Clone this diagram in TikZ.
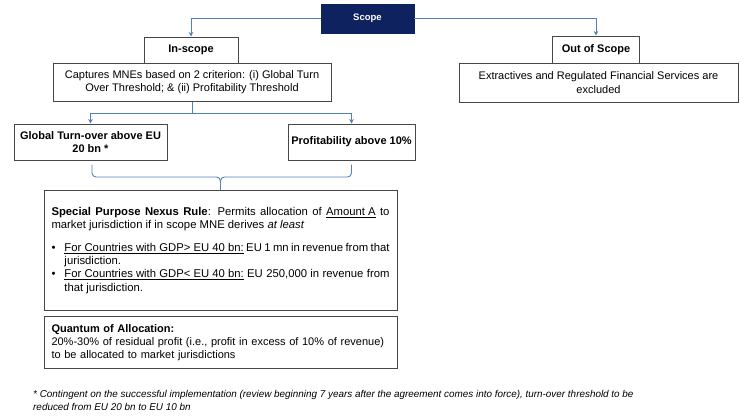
\documentclass[tikz,border=0pt]{standalone}
\usepackage{fontspec}
\setmainfont{Liberation Sans}
\usetikzlibrary{arrows.meta,calc}
\definecolor{navy}{RGB}{13,34,94}
\definecolor{connblue}{RGB}{79,129,189}
\definecolor{boxgray}{RGB}{70,70,70}
\hyphenpenalty=10000
\exhyphenpenalty=10000
\newcommand{\bulletitem}[1]{{\leftskip=13pt\noindent\llap{\makebox[13pt][l]{\textbullet}}#1\par}}
\begin{document}
\begin{tikzpicture}[x=1pt,y=-1pt,
  box/.style={draw=boxgray, line width=1pt, fill=white, inner sep=2pt, align=center,
    font=\fontsize{11}{13.5}\selectfont},
  boldbox/.style={box, font=\bfseries\fontsize{11}{13.5}\selectfont},
  scopebox/.style={draw=navy, fill=navy, text=white, inner sep=0pt,
    font=\bfseries\fontsize{9.5}{11}\selectfont},
  textbox/.style={draw=boxgray, line width=1pt, fill=white, inner xsep=7.5pt, inner ysep=4pt,
    font=\fontsize{11.3}{13.3}\selectfont},
  conn/.style={draw=connblue, line width=0.9pt},
  arr/.style={-{Stealth[length=4.5pt,width=4.5pt]}},
  note/.style={inner sep=0pt, align=left, font=\itshape\fontsize{9.9}{13}\selectfont}]
\useasboundingbox (0,0) rectangle (750,418);

\node[scopebox, minimum width=93pt, minimum height=29pt] (scope) at (367.5,18.5) {Scope};
\node[boldbox, minimum width=94pt, minimum height=26pt] (in) at (191,50) {In-scope};
\node[box, minimum width=278pt, minimum height=38pt] (cap) at (192,82)
  {Captures MNEs based on 2 criterion: (i) Global Turn\\Over Threshold; \& (ii) Profitability Threshold};
\node[boldbox, minimum width=87pt, minimum height=27pt] (out) at (596,49.5) {Out of Scope};
\node[box, minimum width=279pt, minimum height=39pt] (ext) at (598.5,82.5)
  {Extractives and Regulated Financial Services are\\excluded};
\node[boldbox, minimum width=153pt, minimum height=36pt] (glob) at (90.5,142)
  {Global Turn-over above EU\\20 bn *};
\node[boldbox, minimum width=127pt, minimum height=36pt] (prof) at (351.5,142)
  {Profitability above 10\%};

\node[textbox, anchor=north, minimum height=120pt, text width=338pt, align=justify] (spec) at (220.5,190)
  {\textbf{Special Purpose Nexus Rule}: Permits allocation of \underline{Amount A} to market jurisdiction if in scope MNE derives \emph{at least}\par\vspace{9pt}
  \bulletitem{\underline{For Countries with GDP> EU 40 bn:} EU 1 mn in revenue from that jurisdiction.}
  \bulletitem{\underline{For Countries with GDP< EU 40 bn:} EU 250,000 in revenue from that jurisdiction.}
  \vspace{6pt}};

\node[textbox, anchor=north, minimum height=52pt, text width=338pt, align=left,
  font=\fontsize{11}{13.3}\selectfont] (quant) at (220.5,316)
  {\textbf{Quantum of Allocation:}\\20\%-30\% of residual profit (i.e., profit in excess of 10\% of revenue)\\to be allocated to market jurisdictions};

\node[note, anchor=base west] (fn) at (33,410)
  {* Contingent on the successful implementation (review beginning 7 years after the agreement comes into force), turn-over threshold to be\\reduced from EU 20 bn to EU 10 bn};

\draw[conn,arr] (scope.west) -| (in.north);
\draw[conn,arr] (scope.east) -| (out.north);
\coordinate (j) at ($(cap.south)+(0,12)$);
\draw[conn] (cap.south) -- (j);
\draw[conn,arr] (j) -| (glob.north);
\draw[conn,arr] (j) -| (prof.north);
\coordinate (bt) at ($(spec.north)+(0,-13)$);
\draw[conn, rounded corners=4pt] ($(glob.south)+(1.5,4)$) |- (bt) -- (spec.north);
\draw[conn, rounded corners=4pt] ($(prof.south)+(0,4)$) |- (bt) -- (spec.north);
\end{tikzpicture}
\end{document}
